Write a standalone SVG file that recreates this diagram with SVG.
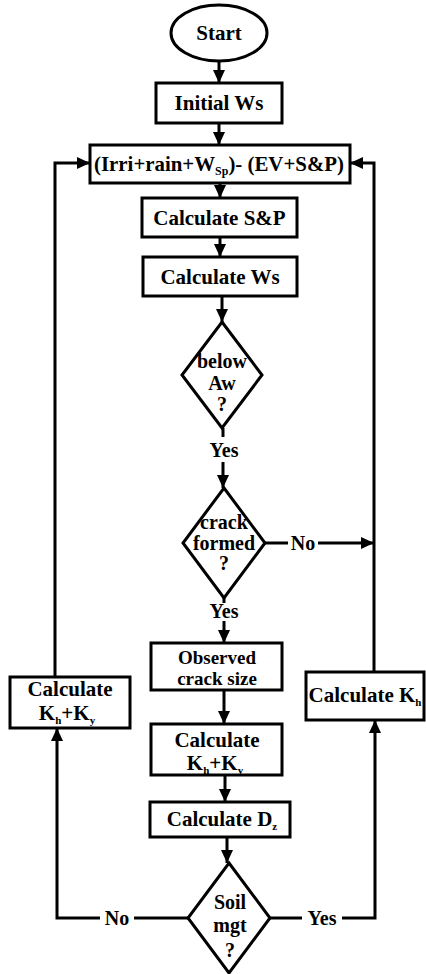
<svg xmlns="http://www.w3.org/2000/svg" width="426" height="974" viewBox="0 0 426 974">
<style>
.n{fill:#fff;stroke:#000;stroke-width:3}
.t{font-family:'Liberation Serif','Times New Roman',Times,serif;font-weight:bold;font-size:21px;fill:#000;text-anchor:middle}
.d{font-size:20px}
.o{font-size:19px}
.c{fill:none;stroke:#000;stroke-width:3}
.a{marker-end:url(#ah)}
</style>
<defs>
<marker id="ah" markerUnits="userSpaceOnUse" markerWidth="13" markerHeight="12" refX="13" refY="6" orient="auto">
<path d="M0,0 L13,6 L0,12 z" fill="#000"/>
</marker>
</defs>
<rect width="426" height="974" fill="#fff"/>
<g id="connectors">
<line class="c a" x1="219" y1="61" x2="219" y2="83"/>
<line class="c a" x1="219" y1="123" x2="219" y2="145"/>
<line class="c a" x1="220" y1="183" x2="220" y2="198"/>
<line class="c a" x1="220" y1="237" x2="220" y2="257"/>
<line class="c a" x1="222" y1="296" x2="222" y2="322"/>
<line class="c" x1="223" y1="428" x2="223" y2="437"/>
<line class="c a" x1="223" y1="462" x2="223" y2="488"/>
<line class="c" x1="265" y1="543" x2="288" y2="543"/>
<line class="c a" x1="318" y1="543" x2="374" y2="543"/>
<line class="c" x1="224" y1="598" x2="224" y2="603"/>
<line class="c a" x1="224" y1="621" x2="224" y2="643"/>
<line class="c a" x1="224" y1="690" x2="224" y2="724"/>
<line class="c a" x1="225" y1="775" x2="225" y2="802"/>
<line class="c a" x1="227" y1="837" x2="227" y2="863"/>
<line class="c" x1="188" y1="918" x2="134" y2="918"/>
<polyline class="c a" points="100,918 57,918 57,728"/>
<line class="c" x1="270" y1="918" x2="302" y2="918"/>
<polyline class="c a" points="342,918 375,918 375,720"/>
<polyline class="c a" points="55,677 55,163 90,163"/>
<polyline class="c a" points="374,672 374,163 350,163"/>
</g>
<g id="start">
<ellipse class="n" cx="219" cy="33" rx="48" ry="28"/>
<text class="t" x="219" y="40">Start</text>
</g>
<g id="initial">
<rect class="n" x="156" y="83" width="126" height="40"/>
<text class="t" x="219" y="110">Initial Ws</text>
</g>
<g id="balance">
<rect class="n" x="90" y="145" width="260" height="38"/>
<text class="t" x="219" y="171" textLength="250" lengthAdjust="spacingAndGlyphs">(Irri+rain+W<tspan font-size="12" dy="4">Sp</tspan><tspan dy="-4">)- (EV+S&amp;P)</tspan></text>
</g>
<g id="calcSP">
<rect class="n" x="142" y="198" width="155" height="39"/>
<text class="t" x="219.5" y="225">Calculate S&amp;P</text>
</g>
<g id="calcWs">
<rect class="n" x="143" y="257" width="154" height="39"/>
<text class="t" x="220" y="284">Calculate Ws</text>
</g>
<g id="belowAw">
<polygon class="n" points="222,322 262,375 222,428 182,375"/>
<text class="t d" x="222" y="368">below</text>
<text class="t d" x="222" y="390">Aw</text>
<text class="t d" x="222" y="411">?</text>
</g>
<g id="yes1"><text class="t d" x="224" y="457">Yes</text></g>
<g id="crack">
<polygon class="n" points="224,488 265,543 224,598 183,543"/>
<text class="t d" x="224" y="529">crack</text>
<text class="t d" x="224" y="550">formed</text>
<text class="t d" x="224" y="570">?</text>
</g>
<g id="no1"><text class="t d" x="303" y="550">No</text></g>
<g id="yes2"><text class="t d" x="224" y="618">Yes</text></g>
<g id="observed">
<rect class="n" x="151" y="643" width="131" height="47"/>
<text class="t o" x="217" y="664">Observed</text>
<text class="t o" x="217" y="685">crack size</text>
</g>
<g id="calcKhKy">
<rect class="n" x="151" y="724" width="131" height="51"/>
<text class="t" x="217" y="747">Calculate</text>
<text class="t" x="215" y="770">K<tspan font-size="11" dy="4">h</tspan><tspan dy="-4">+K</tspan><tspan font-size="11" dy="4">y</tspan></text>
</g>
<g id="calcDz">
<rect class="n" x="150" y="802" width="140" height="35"/>
<text class="t" x="222" y="826">Calculate D<tspan font-size="11" dy="4">z</tspan></text>
</g>
<g id="soil">
<polygon class="n" points="229,863 270,918 229,973 188,918"/>
<text class="t d" x="230" y="909">Soil</text>
<text class="t d" x="230" y="932">mgt</text>
<text class="t d" x="230" y="957">?</text>
</g>
<g id="no2"><text class="t d" x="117" y="925">No</text></g>
<g id="yes3"><text class="t d" x="322" y="925">Yes</text></g>
<g id="leftKhKy">
<rect class="n" x="10" y="677" width="120" height="51"/>
<text class="t" x="70" y="696">Calculate</text>
<text class="t" x="67" y="720">K<tspan font-size="11" dy="4">h</tspan><tspan dy="-4">+K</tspan><tspan font-size="11" dy="4">y</tspan></text>
</g>
<g id="rightKh">
<rect class="n" x="306" y="672" width="118" height="48"/>
<text class="t" x="365" y="702">Calculate K<tspan font-size="11" dy="4">h</tspan></text>
</g>
</svg>
